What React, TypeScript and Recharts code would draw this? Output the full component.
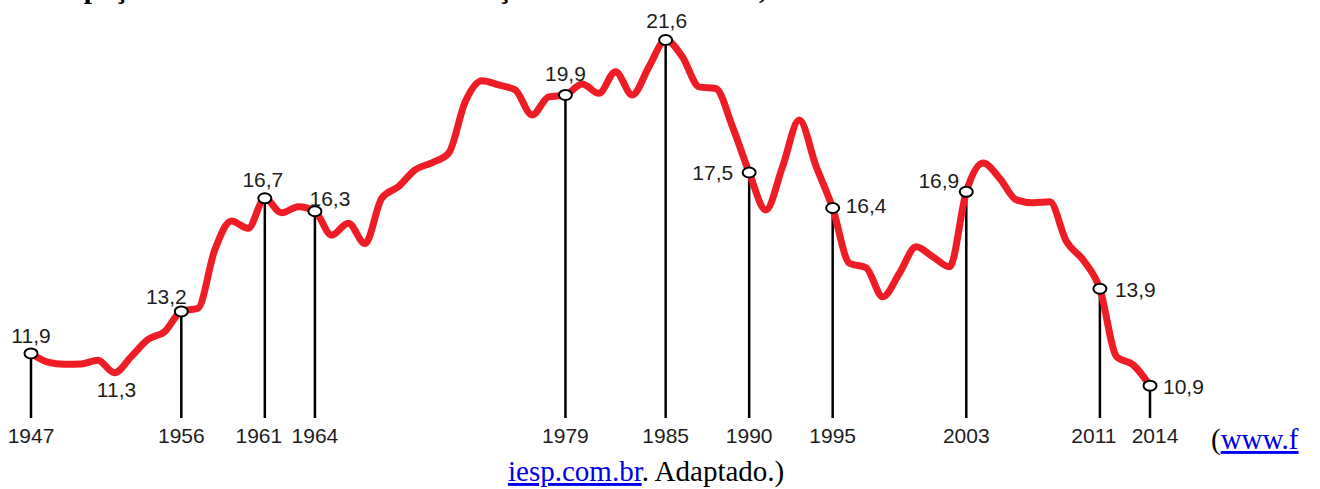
import React from "react";
import { Line, LineChart, ReferenceLine, XAxis, YAxis } from "recharts";

// share of manufacturing in GDP (%), one value per year
const years = [
  1947, 1948, 1949, 1950, 1951, 1952, 1953, 1954, 1955, 1956, 1957, 1958, 1959, 1960, 1961, 1962, 1963,
  1964, 1965, 1966, 1967, 1968, 1969, 1970, 1971, 1972, 1973, 1974, 1975, 1976, 1977, 1978, 1979, 1980,
  1981, 1982, 1983, 1984, 1985, 1986, 1987, 1988, 1989, 1990, 1991, 1992, 1993, 1994, 1995, 1996, 1997,
  1998, 1999, 2000, 2001, 2002, 2003, 2004, 2005, 2006, 2007, 2008, 2009, 2010, 2011, 2012, 2013, 2014,
];
const industryShare = [
  11.9, 11.63, 11.56, 11.57, 11.69, 11.3, 11.8, 12.33, 12.57, 13.2, 13.3, 15.1, 16.0, 15.77, 16.7, 16.25, 16.44,
  16.3, 15.56, 15.93, 15.3, 16.7, 17.06, 17.58, 17.8, 18.09, 19.69, 20.34, 20.21, 20.05, 19.28, 19.84, 19.9, 20.24,
  19.95, 20.62, 19.9, 20.77, 21.6, 21.08, 20.15, 20.1, 18.92, 17.5, 16.34, 17.68, 19.12, 17.7, 16.4, 14.69, 14.55,
  13.65, 14.38, 15.2, 14.89, 14.58, 16.9, 17.79, 17.32, 16.65, 16.56, 16.59, 15.36, 14.79, 13.9, 11.8, 11.54, 10.9,
];
const markedYears = [1947, 1956, 1961, 1964, 1979, 1985, 1990, 1995, 2003, 2011, 2014];
const markedLabels = ["11,9", "13,2", "16,7", "16,3", "19,9", "21,6", "17,5", "16,4", "16,9", "13,9", "10,9"];
const lowYear = 1952;
const lowLabel = "11,3";

const yFloor = 9.9;
const yTop = 21.6;

const data = years.map((year, i) => ({ year, share: industryShare[i] }));

const FONT = '"Liberation Sans", Arial, sans-serif';
const SERIF = '"Liberation Serif", "Times New Roman", serif';
const INK = "#1d1d1d";

// where each value label sits relative to its marker
const labelPlace: Record<number, { anchor: "start" | "middle" | "end"; dx: number; dy: number }> = {
  1947: { anchor: "middle", dx: 0, dy: -10 },
  1952: { anchor: "middle", dx: 2, dy: 24 },
  1956: { anchor: "middle", dx: -15, dy: -7 },
  1961: { anchor: "middle", dx: -2, dy: -11 },
  1964: { anchor: "middle", dx: 15, dy: -5 },
  1979: { anchor: "middle", dx: 0, dy: -14 },
  1985: { anchor: "middle", dx: 1, dy: -12 },
  1990: { anchor: "end", dx: -16, dy: 8 },
  1995: { anchor: "start", dx: 13, dy: 5 },
  2003: { anchor: "end", dx: -7, dy: -4 },
  2011: { anchor: "start", dx: 15, dy: 8 },
  2014: { anchor: "start", dx: 13, dy: 8 },
};

// year labels that are pushed apart where they crowd each other
const tickNudge: Record<number, number> = { 1961: -6, 2011: -6, 2014: 5 };

function YearTick(props: any) {
  const { x, y, payload } = props;
  const nudge = tickNudge[payload.value] ?? 0;
  return (
    <text x={x + nudge} y={y + 15} textAnchor="middle" fontSize={21} fontFamily={FONT} fill={INK}>
      {payload.value}
    </text>
  );
}

function renderDot(props: any) {
  const { cx, cy, payload, index } = props;
  const idx = markedYears.indexOf(payload.year);
  const place = labelPlace[payload.year];
  if (idx >= 0) {
    return (
      <g key={`dot-${index}`}>
        <ellipse cx={cx} cy={cy} rx={6.5} ry={5} fill="#fff" stroke="#000" strokeWidth={2} />
        <text x={cx + place.dx} y={cy + place.dy} textAnchor={place.anchor} fontSize={21} fontFamily={FONT} fill={INK}>
          {markedLabels[idx]}
        </text>
      </g>
    );
  }
  if (payload.year === lowYear) {
    return (
      <text key={`dot-${index}`} x={cx + place.dx} y={cy + place.dy} textAnchor="middle" fontSize={21} fontFamily={FONT} fill={INK}>
        {lowLabel}
      </text>
    );
  }
  return <g key={`dot-${index}`} />;
}

export default function App() {
  return (
    <div style={{ position: "absolute", left: 0, top: 0, width: 1320, height: 489, background: "#fff", overflow: "hidden" }}>
      <LineChart width={1320} height={489} data={data} margin={{ top: 40, right: 170, bottom: 41, left: 31 }}>
        <XAxis
          dataKey="year"
          type="number"
          domain={[1947, 2014]}
          ticks={markedYears}
          interval={0}
          axisLine={false}
          tickLine={false}
          tickMargin={4}
          height={30}
          tick={<YearTick />}
        />
        <YAxis hide domain={[yFloor, yTop]} />
        {markedYears.map((yr) => (
          <ReferenceLine
            key={yr}
            segment={[
              { x: yr, y: yFloor },
              { x: yr, y: industryShare[years.indexOf(yr)] },
            ]}
            stroke="#000"
            strokeWidth={2.5}
          />
        ))}
        <Line
          type="monotone"
          dataKey="share"
          stroke="#ee1d25"
          strokeWidth={7}
          dot={renderDot}
          activeDot={false}
          isAnimationActive={false}
        />
      </LineChart>
      <svg width={1320} height={489} style={{ position: "absolute", left: 0, top: 0, pointerEvents: "none" }}>
        {/* bottom of the page heading above the figure, mostly cut off */}
        <text x={0} y={-2} fontFamily={SERIF} fontSize={29} fontWeight="bold" fill="#000">
          Participação da indústria de transformação no PIB brasileiro,
        </text>
        <text x={1211} y={449} fontFamily={SERIF} fontSize={29} fill="#000">
          (<tspan fill="#0000ee" textDecoration="underline">www.f</tspan>
        </text>
        <text x={508} y={481} fontFamily={SERIF} fontSize={29} fill="#000">
          <tspan fill="#0000ee" textDecoration="underline">iesp.com.br</tspan>. Adaptado.)
        </text>
      </svg>
    </div>
  );
}
